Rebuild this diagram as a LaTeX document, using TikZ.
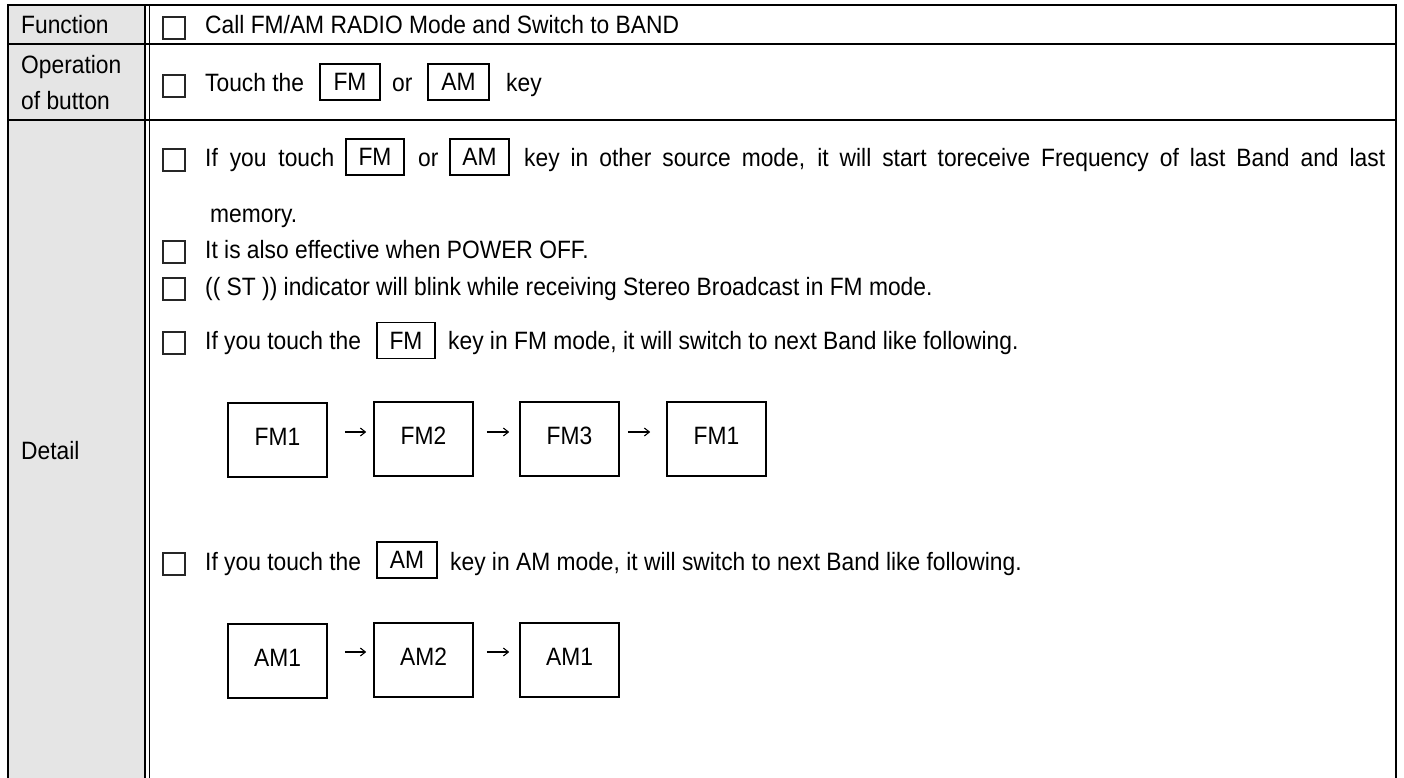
\documentclass[tikz,border=0pt]{standalone}
\usepackage{fontspec}
\setmainfont{Liberation Sans}
\usetikzlibrary{calc,arrows.meta}
\newcommand\vst[1]{\scalebox{1}[1.1]{#1}}
\begin{document}
\begin{tikzpicture}[x=1pt,y=-1pt,
  txt/.style={anchor=base west,inner sep=0pt,font=\fontsize{22.8}{27}\selectfont},
  cbox/.style={draw=black!85,line width=1.3pt,minimum size=22pt,inner sep=0pt},
  keybox/.style={draw,line width=1.8pt,minimum width=59pt,minimum height=36pt,inner sep=0pt,font=\fontsize{22.8}{27}\selectfont},
  band/.style={draw,line width=1.6pt,minimum width=99pt,minimum height=74pt,inner sep=0pt,font=\fontsize{22.8}{27}\selectfont},
  flow/.style={line width=1.1pt,-{Straight Barb[length=5pt,width=8pt]}},
  rule/.style={line width=2pt},
]
\useasboundingbox (0,0) rectangle (1404,778);
\fill[white] (0,0) rectangle (1404,778);
% grey header column
\fill[black!10] (8,5) rectangle (145,778);
% frame
\draw[rule] (8,778) -- (8,5) -- (1396,5) -- (1396,778);
\draw[rule] (8,44) -- (1396,44);
\draw[rule] (8,120) -- (1396,120);
\draw[line width=1.5pt] (145,5) -- (145,778);
\draw[line width=1.5pt] (149.5,5) -- (149.5,778);

% left column labels
\node[txt] (lfun) at (21,34) {\vst{Function}};
\node[txt] (lop1) at (21,74) {\vst{Operation}};
\node[txt] (lop2) at (21,110) {\vst{of button}};
\node[txt] (ldet) at (21,459) {\vst{Detail}};

% row 1
\node[cbox] (cb1) at (174,28) {};
\node[txt] (t1) at (205,34) {\vst{Call FM/AM RADIO Mode and Switch to BAND}};

% row 2
\node[cbox] (cb2) at (174,86) {};
\node[txt] (t2a) at (205,92) {\vst{Touch the}};
\node[keybox,minimum width=60pt] (k2a) at (350,82) {\vst{FM}};
\node[txt] (t2b) at (392,92) {\vst{or}};
\node[keybox,minimum width=61pt] (k2b) at (458.5,82) {\vst{AM}};
\node[txt] (t2c) at (506,92) {\vst{key}};

% detail line 1
\node[cbox] (cb3) at (174,160) {};
\node[txt] (t3a) at (205,167) {\vst{\makebox[129pt][s]{If you touch}}};
\node[keybox,minimum width=58pt] (k3a) at (375,157) {\vst{FM}};
\node[txt] (t3b) at (418,167) {\vst{or}};
\node[keybox] (k3b) at (479.5,157) {\vst{AM}};
\node[txt] (t3c) at (524,167) {\vst{\makebox[861pt][s]{key in other source mode, it will start toreceive Frequency of last Band and last}}};
\node[txt] (t3d) at (210,222) {\vst{memory.}};

% detail line 2, 3
\node[cbox] (cb4) at (174,252) {};
\node[txt] (t4) at (205,258) {\vst{It is also effective when POWER OFF.}};
\node[cbox] (cb5) at (174,289) {};
\node[txt] (t5) at (205,295) {\vst{(( ST )) indicator will blink while receiving Stereo Broadcast in FM mode.}};

% FM line
\node[cbox] (cb6) at (174,343) {};
\node[txt] (t6a) at (205,349) {\vst{If you touch the}};
\node[keybox,minimum width=58pt] (k6) at (406,340.5) {\vst{FM}};
\node[txt] (t6b) at (448,349) {\vst{key in FM mode, it will switch to next Band like following.}};

% FM bands
\node[band] (fm1) at (277.5,440) {\raisebox{6pt}{\vst{FM1}}};
\node[band] (fm2) at (423.5,439) {\raisebox{6pt}{\vst{FM2}}};
\node[band] (fm3) at (569.5,439) {\raisebox{6pt}{\vst{FM3}}};
\node[band] (fm4) at (716.5,439) {\raisebox{6pt}{\vst{FM1}}};
\draw[flow] ($(fm1.east)+(17,-8)$) -- ($(fm2.west)+(-7,-7)$);
\draw[flow] ($(fm2.east)+(13,-7)$) -- ($(fm3.west)+(-10,-7)$);
\draw[flow] ($(fm3.east)+(8,-7)$) -- ($(fm4.west)+(-16,-7)$);

% AM line
\node[cbox] (cb7) at (174,564) {};
\node[txt] (t7a) at (205,570) {\vst{If you touch the}};
\node[keybox,minimum width=60pt] (k7) at (407,560) {\vst{AM}};
\node[txt] (t7b) at (450,570) {\vst{key in AM mode, it will switch to next Band like following.}};

% AM bands
\node[band] (am1) at (277.5,661) {\raisebox{7pt}{\vst{AM1}}};
\node[band] (am2) at (423.5,660) {\raisebox{7pt}{\vst{AM2}}};
\node[band] (am3) at (569.5,660) {\raisebox{7pt}{\vst{AM1}}};
\draw[flow] ($(am1.east)+(17,-9)$) -- ($(am2.west)+(-7,-8)$);
\draw[flow] ($(am2.east)+(13,-8)$) -- ($(am3.west)+(-10,-8)$);
\end{tikzpicture}
\end{document}
